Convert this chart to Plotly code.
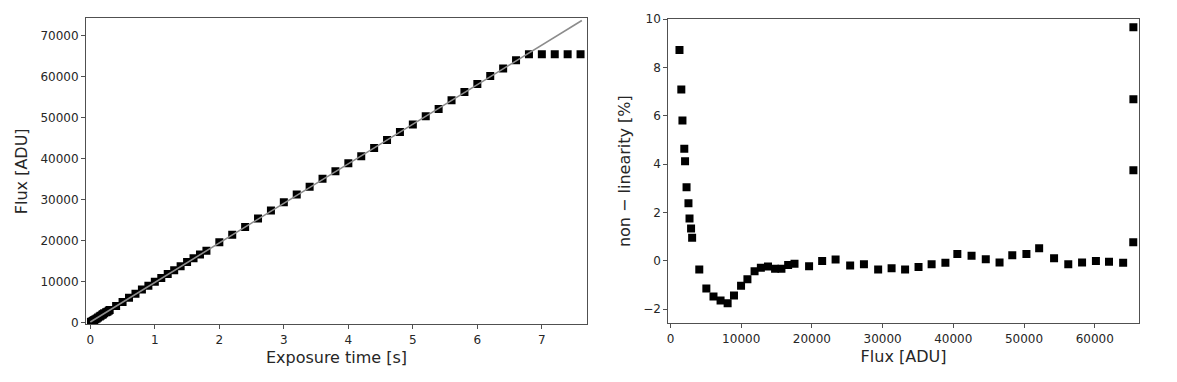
import plotly.graph_objects as go

# ---- data ----
# exposure time [s] for every measured frame
exposure_time = [0.01, 0.02, 0.04, 0.06, 0.08, 0.10,
                 0.12, 0.145, 0.16, 0.185, 0.195, 0.215, 0.245, 0.265, 0.285, 0.30,
                 0.4, 0.5, 0.6, 0.7, 0.8, 0.9, 1.0, 1.1, 1.2, 1.3, 1.4, 1.5, 1.6, 1.7, 1.8,
                 2.0, 2.2, 2.4, 2.6, 2.8, 3.0, 3.2, 3.4, 3.6, 3.8, 4.0, 4.2, 4.4, 4.6,
                 4.8, 5.0, 5.2, 5.4, 5.6, 5.8, 6.0, 6.2, 6.4, 6.6,
                 6.8, 7.0, 7.2, 7.4, 7.6]
# measured flux [ADU]
flux = [150, 260, 450, 640, 830, 1020,
        1270, 1530, 1690, 1950, 2060, 2270, 2540, 2690, 2910, 3060,
        4070, 5070, 6080, 7080, 8080, 8980, 9980, 10880, 11890, 12780, 13790, 14790,
        15690, 16640, 17540,
        19600, 21450, 23350, 25410, 27360, 29370, 31270, 33180, 35080, 36930, 38880,
        40570, 42580, 44590, 46540, 48340, 50340, 52140, 54250, 56260, 58210, 60170,
        62020, 64020,
        65450, 65470, 65470, 65470, 65470]
# non-linearity [%] for each frame (None = outside plotted range)
nonlinearity = [None, None, None, None, None, None,
                8.72, 7.09, 5.80, 4.64, 4.12, 3.04, 2.38, 1.75, 1.34, 0.96,
                -0.36, -1.14, -1.47, -1.64, -1.75, -1.43, -1.03, -0.76, -0.43, -0.28,
                -0.23, -0.33, -0.33, -0.17, -0.12,
                -0.22, 0.00, 0.06, -0.19, -0.14, -0.36, -0.30, -0.36, -0.25, -0.14, -0.08,
                0.29, 0.21, 0.07, -0.07, 0.23, 0.28, 0.52, 0.11, -0.14, -0.07, 0.00,
                -0.04, -0.08,
                0.77, 3.75, 6.68, 9.66, None]
# linear fit line endpoints
fit_time = [0.0, 7.62]
fit_flux = [150, 73700]

# tick labels
left_xticks = [0, 1, 2, 3, 4, 5, 6, 7]
left_yticks = [0, 10000, 20000, 30000, 40000, 50000, 60000, 70000]
right_xticks = [0, 10000, 20000, 30000, 40000, 50000, 60000]
right_yticks = [-2, 0, 2, 4, 6, 8, 10]
right_yticktext = ["\u22122", "0", "2", "4", "6", "8", "10"]

FONT = "DejaVu Sans"
TXT = "#262626"
AX = "#505050"

# page body has an 8 px margin; the figure is sized to fit inside the window
OFF = 8
W, H = 1177 - OFF, 382 - OFF


def xd(a, b):
    return [(a - OFF) / W, (b - OFF) / W]


def yd(top, bottom):
    return [1 - (bottom - OFF) / H, 1 - (top - OFF) / H]


# right-plot points: only the ones with a value
nl_x = [f for f, v in zip(flux, nonlinearity) if v is not None]
nl_y = [v for v in nonlinearity if v is not None]

fig = go.Figure()
fig.add_trace(go.Scatter(x=exposure_time, y=flux, mode="markers",
                         marker=dict(symbol="square", size=8, color="black",
                                     line=dict(width=0)),
                         xaxis="x", yaxis="y", showlegend=False))
fig.add_trace(go.Scatter(x=fit_time, y=fit_flux, mode="lines",
                         line=dict(color="#8c8c8c", width=1.6),
                         xaxis="x", yaxis="y", showlegend=False))
fig.add_trace(go.Scatter(x=nl_x, y=nl_y, mode="markers",
                         marker=dict(symbol="square", size=8, color="black",
                                     line=dict(width=0)),
                         xaxis="x2", yaxis="y2", showlegend=False))

axis_common = dict(showgrid=False, zeroline=False, showline=True, linecolor=AX,
                   linewidth=1, mirror=True, ticks="outside", ticklen=4,
                   tickwidth=1, tickcolor=AX, automargin=False,
                   tickfont=dict(family=FONT, size=12, color=TXT))

fig.update_layout(
    width=W, height=H,
    margin=dict(l=0, r=0, t=0, b=0),
    plot_bgcolor="white", paper_bgcolor="white",
    xaxis=dict(domain=xd(86, 587), range=[-0.067, 7.70],
               tickvals=left_xticks, ticktext=[str(v) for v in left_xticks],
               title=dict(text="Exposure time [s]", standoff=6,
                          font=dict(family=FONT, size=16, color=TXT)),
               anchor="y", **axis_common),
    yaxis=dict(domain=yd(18.3, 324.3), range=[-400, 74250],
               tickvals=left_yticks, ticktext=[str(v) for v in left_yticks],
               title=dict(text="Flux [ADU]", standoff=8,
                          font=dict(family=FONT, size=16, color=TXT)),
               anchor="x", **axis_common),
    xaxis2=dict(domain=xd(668.3, 1138.7), range=[-311, 66220],
                tickvals=right_xticks, ticktext=[str(v) for v in right_xticks],
                title=dict(text="Flux [ADU]", standoff=6,
                           font=dict(family=FONT, size=16, color=TXT)),
                anchor="y2", **axis_common),
    yaxis2=dict(domain=yd(19, 323.3), range=[-2.58, 10.0],
                tickvals=right_yticks, ticktext=right_yticktext,
                title=dict(text="non \u2212 linearity [%]", standoff=8,
                           font=dict(family=FONT, size=16, color=TXT)),
                anchor="x2", **axis_common),
)

fig.write_html("out.html")
